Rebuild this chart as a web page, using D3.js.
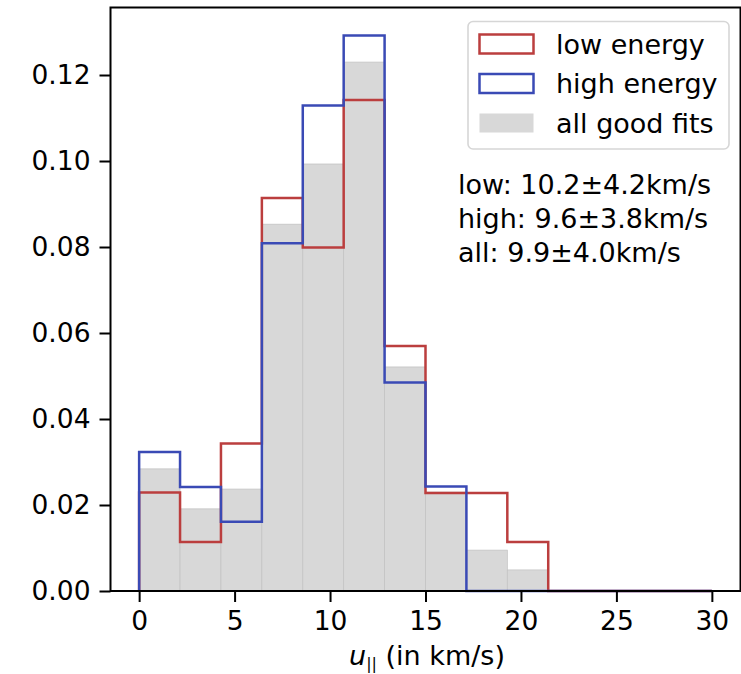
<!DOCTYPE html>
<html>
<head>
<meta charset="utf-8">
<script src="https://cdn.jsdelivr.net/npm/d3@7"></script>
<style>
  body { margin: 0; background: #fff; }
  text { font-family: "DejaVu Sans", sans-serif; fill: #000; }
</style>
</head>
<body>
<svg id="chart" width="741" height="674"></svg>
<script>
// Histogram data (density), 14 bins from 0 to 30
const binEdges = d3.range(15).map(i => i * 30 / 14);
const lowEnergy = [0.0229, 0.0114, 0.0343, 0.0914, 0.0799, 0.1142, 0.0570, 0.0228, 0.0228, 0.0114, 0, 0, 0, 0];
const highEnergy = [0.0323, 0.0242, 0.0161, 0.0809, 0.1129, 0.1292, 0.0485, 0.0243, 0, 0, 0, 0, 0, 0];
const allFits = [0.0284, 0.0191, 0.0237, 0.0853, 0.0993, 0.1230, 0.0521, 0.0230, 0.0095, 0.0049, 0, 0, 0, 0];
const xTicks = [0, 5, 10, 15, 20, 25, 30];
const yTicks = [0, 0.02, 0.04, 0.06, 0.08, 0.10, 0.12];
const legendLabels = ["low energy", "high energy", "all good fits"];
const statLines = ["low: 10.2\u00b14.2km/s", "high: 9.6\u00b13.8km/s", "all: 9.9\u00b14.0km/s"];

const RED = "#bb3e3e";
const BLUE = "#3a4ab5";
const GRAY = "#d8d8d8";
const TICK_FS = 26.5;
const FS = 27;

// Plot box
const box = {left: 110.5, right: 740.5, top: 7.5, bottom: 591};

const svg = d3.select("#chart");

const x = d3.scaleLinear().domain([-1.5, 31.5]).range([box.left, box.right]);
const y = d3.scaleLinear().domain([0, 0.1357]).range([box.bottom, box.top]);

// Filled bars for all good fits
svg.append("g")
  .selectAll("rect")
  .data(allFits)
  .enter()
  .append("rect")
  .attr("x", (d, i) => x(binEdges[i]))
  .attr("y", d => y(d))
  .attr("width", (d, i) => x(binEdges[i + 1]) - x(binEdges[i]))
  .attr("height", d => y(0) - y(d))
  .attr("fill", GRAY)
  .attr("stroke", d => d > 0 ? "#c4c4c4" : "none")
  .attr("stroke-width", 0.8);

// Step outline helper
function stepPoints(values) {
  const pts = [[binEdges[0], 0]];
  values.forEach((v, i) => {
    pts.push([binEdges[i], v]);
    pts.push([binEdges[i + 1], v]);
  });
  pts.push([binEdges[binEdges.length - 1], 0]);
  return pts;
}

const stepLine = d3.line()
  .x(d => x(d[0]))
  .y(d => y(d[1]));

svg.append("path")
  .datum(stepPoints(lowEnergy))
  .attr("fill", "none")
  .attr("stroke", RED)
  .attr("stroke-width", 2.5)
  .attr("d", stepLine);

svg.append("path")
  .datum(stepPoints(highEnergy))
  .attr("fill", "none")
  .attr("stroke", BLUE)
  .attr("stroke-width", 2.5)
  .attr("d", stepLine);

// Axes
const xAxis = svg.append("g")
  .attr("transform", `translate(0,${box.bottom})`)
  .call(d3.axisBottom(x).tickValues(xTicks).tickSize(11).tickPadding(9).tickFormat(d3.format("d")));

const yAxis = svg.append("g")
  .attr("transform", `translate(${box.left},0)`)
  .call(d3.axisLeft(y).tickValues(yTicks).tickSize(11).tickPadding(9).tickFormat(d3.format(".2f")));

[xAxis, yAxis].forEach(g => {
  g.select(".domain").remove();
  g.selectAll(".tick line").attr("stroke", "#000").attr("stroke-width", 2);
  g.selectAll(".tick text")
    .attr("font-size", TICK_FS)
    .attr("font-family", "DejaVu Sans, sans-serif")
    .attr("fill", "#000");
});

// Spines
svg.append("rect")
  .attr("x", box.left)
  .attr("y", box.top)
  .attr("width", box.right - box.left)
  .attr("height", box.bottom - box.top)
  .attr("fill", "none")
  .attr("stroke", "#000")
  .attr("stroke-width", 2);

// X label
const xl = svg.append("text")
  .attr("x", 427)
  .attr("y", 665)
  .attr("text-anchor", "middle")
  .attr("font-size", FS)
  .attr("fill", "#000");
xl.append("tspan").attr("font-style", "italic").attr("fill", "#000").text("u");
xl.append("tspan").attr("font-size", 16).attr("dy", 4).attr("fill", "#000").text("||");
xl.append("tspan").attr("dy", -4).attr("fill", "#000").text(" (in km/s)");

// Legend
const legend = svg.append("g");
legend.append("rect")
  .attr("x", 468)
  .attr("y", 21.5)
  .attr("width", 261)
  .attr("height", 127.5)
  .attr("rx", 5)
  .attr("fill", "#fff")
  .attr("fill-opacity", 0.8)
  .attr("stroke", "#d6d6d6")
  .attr("stroke-width", 1.6);

const legendStyles = [
  {fill: "none", stroke: RED},
  {fill: "none", stroke: BLUE},
  {fill: GRAY, stroke: "none"}
];

legendLabels.forEach((label, i) => {
  const cy = 44 + i * 39.5;
  legend.append("rect")
    .attr("x", 479.5)
    .attr("y", cy - 9.5)
    .attr("width", 54)
    .attr("height", 19)
    .attr("fill", legendStyles[i].fill)
    .attr("stroke", legendStyles[i].stroke)
    .attr("stroke-width", 2.5);
  legend.append("text")
    .attr("x", 556)
    .attr("y", cy + 9.5)
    .attr("font-size", FS)
    .text(label);
});

// Stats annotation
svg.append("g")
  .selectAll("text")
  .data(statLines)
  .enter()
  .append("text")
  .attr("x", 458)
  .attr("y", (d, i) => 193.5 + i * 34.2)
  .attr("font-size", FS)
  .text(d => d);
</script>
</body>
</html>
